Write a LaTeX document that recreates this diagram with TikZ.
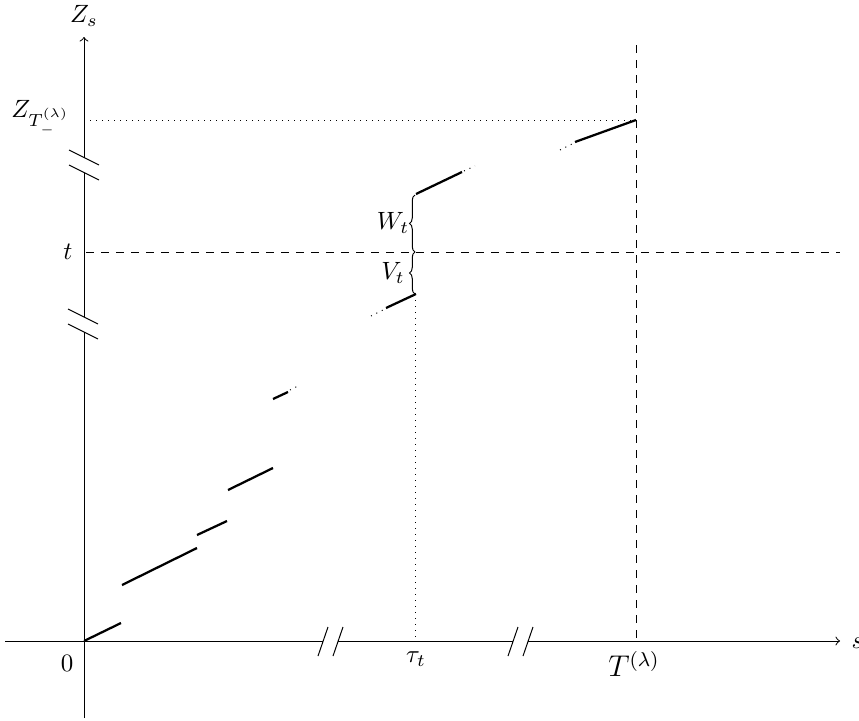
\documentclass[tikz,border=0pt]{standalone}
\usetikzlibrary{decorations.pathreplacing}
\begin{document}
\begin{tikzpicture}[x=0.4pt,y=-0.4pt,
  axisline/.style={line width=0.4pt},
  breakmark/.style={line width=0.4pt},
  jumpseg/.style={line width=0.9pt},
  jumpdots/.style={line width=0.4pt,dotted},
  guide/.style={line width=0.4pt,dotted},
  dashguide/.style={line width=0.4pt,dashed},
  lbl/.style={inner sep=0pt},
  bracestyle/.style={line width=0.4pt,decorate,decoration={brace,amplitude=2.2pt}}]
\useasboundingbox (0,0) rectangle (859,720);
% named coordinates
\coordinate (O) at (84,641);
\coordinate (ytop) at (84,37);
\coordinate (ybot) at (84,718);
\coordinate (xleft) at (5,641);
\coordinate (xright) at (840,641);
\coordinate (Tbot) at (636,641);
\coordinate (Ttop) at (636,45);
\coordinate (tauBot) at (415,641);
\coordinate (tauTop) at (415,294);
\coordinate (ZT) at (84,120);
\coordinate (ZTend) at (636,120);
\coordinate (tL) at (86,252);
\coordinate (tR) at (840,252);
\coordinate (tmid) at (415,252);
\coordinate (jumpTop) at (415,195);
% axes with breaks
\draw[axisline] (ybot) -- (84,331.5);
\draw[axisline] (84,316.5) -- (84,172.5);
\draw[axisline,->] (84,157.5) -- (ytop);
\draw[axisline] (xleft) -- (323,641);
\draw[axisline] (338,641) -- (513,641);
\draw[axisline,->] (528,641) -- (xright);
% break marks
\draw[breakmark] (69,150) -- (99,165);
\draw[breakmark] (69,165) -- (99,180);
\draw[breakmark] (68,309) -- (98,324);
\draw[breakmark] (68,324) -- (98,339);
\draw[breakmark] (318,656) -- (328,627);
\draw[breakmark] (333,656) -- (343,627);
\draw[breakmark] (508,656) -- (518,627);
\draw[breakmark] (523,656) -- (533,627);
% guides
\draw[guide] (ZT) -- (ZTend);
\draw[guide] (tauTop) -- (tauBot);
\draw[dashguide] (Ttop) -- (Tbot);
\draw[dashguide] (tL) -- (tR);
% jump segments
\draw[jumpseg] (O) -- (121,623);
\draw[jumpseg] (122,585) -- (197,548);
\draw[jumpseg] (197,535) -- (227,521);
\draw[jumpseg] (228,490) -- (273,468);
\draw[jumpseg] (273,399) -- (288,392);
\draw[jumpdots] (290,390) -- (300,385);
\draw[jumpdots] (371,316) -- (385,309);
\draw[jumpseg] (386,308) -- (416,294);
\draw[jumpseg] (416,194) -- (462,172);
\draw[jumpdots] (464,171) -- (475,166);
\draw[jumpdots] (560,150) -- (574,143);
\draw[jumpseg] (575,142) -- (ZTend);
% braces
\draw[bracestyle] (tauTop) -- (tmid);
\draw[bracestyle] (tmid) -- (jumpTop);
% labels
\node[lbl] (Zs) at (84,16) {$Z_s$};
\node[lbl,anchor=base east] (ZTl) at (70,117) {$Z_{T_-^{(\lambda)}}$};
\node[lbl] (tl) at (68,252) {$t$};
\node[lbl] (zero) at (67,663) {$0$};
\node[lbl] (taul) at (416,659) {$\tau_t$};
\node[lbl] (Tl) at (634,664) {\large $T^{(\lambda)}$};
\node[lbl,anchor=west] (sl) at (851,643) {$s$};
\node[lbl] (Wl) at (393,223) {$W_t$};
\node[lbl] (Vl) at (393,273) {$V_t$};
\end{tikzpicture}
\end{document}
